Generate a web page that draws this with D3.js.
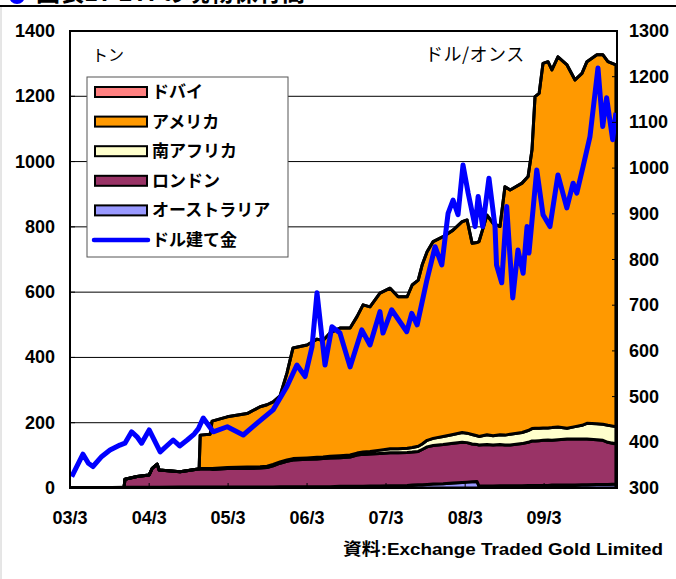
<!DOCTYPE html>
<html>
<head>
<meta charset="utf-8">
<script src="https://cdn.jsdelivr.net/npm/d3@7"></script>
<style>
    body { margin: 0; background: #fff; }
    svg { display: block; font-family: "Liberation Sans", Arial, sans-serif; }
    .jp { font-family: "Noto Sans CJK JP", sans-serif; }
</style>
</head>
<body>
<div id="chart"></div>
<script>
// ETF gold holdings (tonnes), stacked bottom -> top
const stackDates = [
    '2003-03-01','2003-07-18','2003-11-06','2003-11-10','2004-01-05','2004-03-01','2004-03-15','2004-04-07','2004-04-16','2004-07-22',
    '2004-10-14','2004-10-18','2004-10-23','2004-12-08','2004-12-17','2005-02-25','2005-05-28','2005-07-27','2005-08-28','2005-09-25',
    '2005-10-27','2005-11-28','2005-12-26','2006-03-01','2006-04-16','2006-05-14','2006-06-15','2006-07-31','2006-09-16','2006-10-18',
    '2006-11-15','2006-12-17','2007-02-01','2007-03-20','2007-04-26','2007-06-07','2007-06-30','2007-07-28','2007-08-15','2007-09-07',
    '2007-10-05','2007-11-20','2008-01-05','2008-02-16','2008-03-10','2008-04-02','2008-04-25','2008-05-04','2008-06-10','2008-07-08',
    '2008-08-09','2008-09-01','2008-09-25','2008-11-19','2008-12-17','2009-01-04','2009-01-18','2009-02-06','2009-02-24','2009-03-19',
    '2009-04-06','2009-05-04','2009-06-15','2009-07-22','2009-08-23','2009-09-15','2009-10-31','2009-11-28','2009-12-21','2010-01-27'
];
const australia = [
    0.5,1,2,2,2,2,2,2,2,3,
    3,3,3,3,3,3,3,3,3,3,
    4,4,4,4,4,4,4,5,5,5,
    5,6,6,7,7,8,9,10,10,11,
    12,13,15,17,18,19,20,6,6,6,
    7,7,7,7,8,8,8,8,8,8,
    9,9,9,9,10,10,11,11,11,12
];
const london = [
    0,0,0,25,33,38,58,71,53,47,
    55,55,55,55,54,57,57,58,60,65,
    72,78,82,84,85,86,88,88,90,96,
    98,98,100,101,101,101,101,102,108,115,
    118,120,122,123,121,116,113,126,127,126,
    126,125,125,129,132,136,136,137,138,139,
    137,139,141,141,140,140,137,135,129,123
];
const southAfrica = [
    0,0,0,0,0,0,0,0,0,0,
    0,0,2,2,3,3,4,4,4,4,
    4,4,4,4,5,5,5,6,6,6,
    7,8,10,12,12,13,14,16,17,20,
    22,25,27,30,29,29,27,26,30,28,
    30,30,33,34,36,38,39,38,38,37,
    39,39,33,38,42,48,49,49,52,53
];
const america = [
    0,0,0,0,0,0,0,0,0,0,
    0,0,102,105,145,155,164,184,188,192,
    202,266,339,346,362,357,378,391,389,418,
    451,443,481,492,466,464,498,509,548,578,
    603,612,626,646,653,586,592,597,673,651,
    638,761,748,764,778,854,1016,1026,1117,1122,
    1096,1134,1113,1062,1078,1108,1130,1132,1114,1108
];
const dubai = [
    0,0,0,0,0,0,0,0,0,0,
    0,0,0,0,0,0,0,0,0,0,
    0,0,0,0,0,0,0,0,0,0,
    0,0,0,0,0,0,0,0,0,0,
    0,0,0,0,0,0,0,0,0,0,
    0,0,0,0,0,0,0,0,0,0,
    0,0,0,0,0,0,0,0,0,0
];

// Gold price (USD/oz)
const goldDates = [
    '2003-03-09','2003-04-30','2003-05-25','2003-06-15','2003-07-26','2003-09-02','2003-10-18','2003-11-10','2003-12-11','2004-01-05',
    '2004-01-26','2004-03-01','2004-04-21','2004-06-20','2004-07-20','2004-08-24','2004-09-25','2004-10-15','2004-11-06','2004-12-22',
    '2005-02-25','2005-05-10','2005-07-13','2005-09-25','2005-11-28','2006-01-13','2006-02-20','2006-03-24','2006-04-16','2006-05-23',
    '2006-06-24','2006-07-31','2006-09-16','2006-11-09','2006-12-17','2007-02-01','2007-02-15','2007-03-27','2007-06-05','2007-06-28',
    '2007-07-23','2007-09-06','2007-10-14','2007-11-14','2007-12-13','2008-01-05','2008-01-28','2008-02-20','2008-03-15','2008-04-16',
    '2008-04-30','2008-05-21','2008-06-19','2008-07-17','2008-07-24','2008-08-17','2008-09-09','2008-10-07','2008-10-31','2008-11-24',
    '2008-12-12','2008-12-21','2009-01-26','2009-02-24','2009-03-28','2009-05-04','2009-06-14','2009-07-13','2009-07-30','2009-08-28',
    '2009-09-29','2009-11-05','2009-11-27','2009-12-15','2010-01-12','2010-01-27'
];
const goldPrice = [
    325,374,354,347,369,383,394,398,423,412,
    398,427,379,405,392,405,418,430,453,423,
    434,416,442,471,522,569,544,609,727,569,
    653,639,565,646,613,686,639,690,642,682,
    657,755,828,788,901,930,898,1007,945,872,
    938,872,978,872,788,749,916,716,821,770,
    872,814,996,898,872,985,913,967,945,1003,
    1069,1219,1091,1154,1062,1121
];

const tonTicks = [0, 200, 400, 600, 800, 1000, 1200, 1400];
const priceTicks = [300, 400, 500, 600, 700, 800, 900, 1000, 1100, 1200, 1300];
const yearTickDates = ['2003-03-01','2004-03-01','2005-03-01','2006-03-01','2007-03-01','2008-03-01','2009-03-01'];
const yearTickLabels = ['03/3','04/3','05/3','06/3','07/3','08/3','09/3'];

const seriesKeys = ['australia', 'london', 'southAfrica', 'america', 'dubai'];
const seriesNames = {australia: 'オーストラリア', london: 'ロンドン', southAfrica: '南アフリカ', america: 'アメリカ', dubai: 'ドバイ'};
const seriesColors = {australia: '#9999ff', london: '#993366', southAfrica: '#ffffcc', america: '#ff9900', dubai: '#ff8080'};

const margin = {top: 31, right: 59, bottom: 91, left: 70};
const width = 676 - margin.left - margin.right;
const height = 579 - margin.top - margin.bottom;
const parse = d3.timeParse('%Y-%m-%d');

const root = d3.select('#chart').append('svg')
    .attr('width', 676)
    .attr('height', 579);

// header remnants (title is cut off at the top of the picture)
root.append('circle').attr('cx', 17).attr('cy', -4).attr('r', 8).attr('fill', '#0000ff');
root.append('text')
    .attr('class', 'jp')
    .attr('x', 36).attr('y', 1)
    .style('font-size', '24px').style('font-weight', 'bold')
    .text('図表17 ETFの現物保有高');
root.append('line')
    .attr('x1', 0).attr('x2', 676).attr('y1', 6).attr('y2', 6)
    .attr('stroke', '#000').attr('stroke-width', 2);
root.append('line')
    .attr('x1', 1).attr('x2', 1).attr('y1', 7).attr('y2', 579)
    .attr('stroke', '#cccccc').attr('stroke-width', 1);

const svg = root.append('g')
    .attr('transform', `translate(${margin.left},${margin.top})`);

const x = d3.scaleTime()
    .domain([parse('2003-03-01'), parse('2010-02-01')])
    .range([0, width]);
const yTon = d3.scaleLinear().domain([0, 1400]).range([height, 0]);
const yPrice = d3.scaleLinear().domain([300, 1300]).range([height, 0]);

svg.append('defs').append('clipPath').attr('id', 'plotClip')
    .append('rect').attr('width', width).attr('height', height);

// gridlines
svg.append('g').selectAll('line')
    .data(tonTicks.filter(d => d > 0 && d < 1400))
    .enter().append('line')
    .attr('x1', 0).attr('x2', width)
    .attr('y1', d => yTon(d)).attr('y2', d => yTon(d))
    .attr('stroke', '#000').attr('stroke-width', 1);

// stacked areas
const series = {australia, london, southAfrica, america, dubai};
const rows = stackDates.map((d, i) => {
    const row = {date: parse(d)};
    seriesKeys.forEach(k => row[k] = series[k][i]);
    return row;
});
const stacked = d3.stack().keys(seriesKeys)(rows);

const area = d3.area()
    .x(d => x(d.data.date))
    .y0(d => yTon(d[0]))
    .y1(d => yTon(d[1]));

const plot = svg.append('g').attr('clip-path', 'url(#plotClip)');

plot.selectAll('path.layer')
    .data(stacked)
    .enter().append('path')
    .attr('class', 'layer')
    .attr('d', area)
    .attr('fill', d => seriesColors[d.key])
    .attr('stroke', '#000')
    .attr('stroke-width', 3)
    .attr('stroke-linejoin', 'round');

// gold price line
const gold = goldDates.map((d, i) => ({date: parse(d), value: goldPrice[i]}));
plot.append('path')
    .datum(gold)
    .attr('fill', 'none')
    .attr('stroke', '#0000ff')
    .attr('stroke-width', 5)
    .attr('stroke-linejoin', 'round')
    .attr('d', d3.line().x(d => x(d.date)).y(d => yPrice(d.value)));

// frame
svg.append('rect')
    .attr('width', width).attr('height', height)
    .attr('fill', 'none').attr('stroke', '#000').attr('stroke-width', 2);

// axes (ticks point inward)
const leftAxis = svg.append('g');
leftAxis.selectAll('line').data(tonTicks).enter().append('line')
    .attr('x1', 0).attr('x2', 5)
    .attr('y1', d => yTon(d)).attr('y2', d => yTon(d))
    .attr('stroke', '#000');
leftAxis.selectAll('text').data(tonTicks).enter().append('text')
    .attr('x', -15).attr('y', d => yTon(d) + 6)
    .attr('text-anchor', 'end')
    .style('font-size', '18px').style('font-weight', 'bold')
    .text(d => d);

const rightAxis = svg.append('g');
rightAxis.selectAll('line').data(priceTicks).enter().append('line')
    .attr('x1', width - 5).attr('x2', width)
    .attr('y1', d => yPrice(d)).attr('y2', d => yPrice(d))
    .attr('stroke', '#000');
rightAxis.selectAll('text').data(priceTicks).enter().append('text')
    .attr('x', width + 12).attr('y', d => yPrice(d) + 6)
    .style('font-size', '18px').style('font-weight', 'bold')
    .text(d => d);

const bottomAxis = svg.append('g');
bottomAxis.selectAll('line').data(yearTickDates).enter().append('line')
    .attr('x1', d => x(parse(d))).attr('x2', d => x(parse(d)))
    .attr('y1', height - 5).attr('y2', height)
    .attr('stroke', '#000');
bottomAxis.selectAll('text').data(yearTickDates).enter().append('text')
    .attr('x', d => x(parse(d))).attr('y', height + 36)
    .attr('text-anchor', 'middle')
    .style('font-size', '18px').style('font-weight', 'bold')
    .text((d, i) => yearTickLabels[i]);

// unit labels
svg.append('text').attr('class', 'jp')
    .attr('x', 22).attr('y', 30)
    .style('font-size', '16px')
    .text('トン');
svg.append('text').attr('class', 'jp')
    .attr('x', 355).attr('y', 30)
    .style('font-size', '18px').style('letter-spacing', '0.5px')
    .text('ドル/オンス');

// legend
const legendItems = ['dubai', 'america', 'southAfrica', 'london', 'australia', 'gold'];
const legend = svg.append('g').attr('transform', 'translate(17,46)');
legend.append('rect')
    .attr('width', 201).attr('height', 180)
    .attr('fill', '#fff').attr('stroke', '#555').attr('stroke-width', 1);
legendItems.forEach((k, i) => {
    const cy = 15 + i * 29.6;
    if (k === 'gold') {
        legend.append('line')
            .attr('x1', 7).attr('x2', 61).attr('y1', cy).attr('y2', cy)
            .attr('stroke', '#0000ff').attr('stroke-width', 4.5)
            .attr('stroke-linecap', 'round');
    } else {
        legend.append('rect')
            .attr('x', 8).attr('y', cy - 5).attr('width', 52).attr('height', 10)
            .attr('fill', seriesColors[k]).attr('stroke', '#000').attr('stroke-width', 2);
    }
    legend.append('text').attr('class', 'jp')
        .attr('x', 65).attr('y', cy + 6)
        .style('font-size', '17px').style('font-weight', 'bold')
        .text(k === 'gold' ? 'ドル建て金' : seriesNames[k]);
});

// source
root.append('text')
    .attr('x', 663).attr('y', 555)
    .attr('text-anchor', 'end')
    .attr('textLength', 320).attr('lengthAdjust', 'spacingAndGlyphs')
    .style('font-size', '17px').style('font-weight', 'bold')
    .style('font-family', '"Liberation Sans", "Noto Sans CJK JP", sans-serif')
    .text('資料:Exchange Traded Gold Limited');
</script>
</body>
</html>
